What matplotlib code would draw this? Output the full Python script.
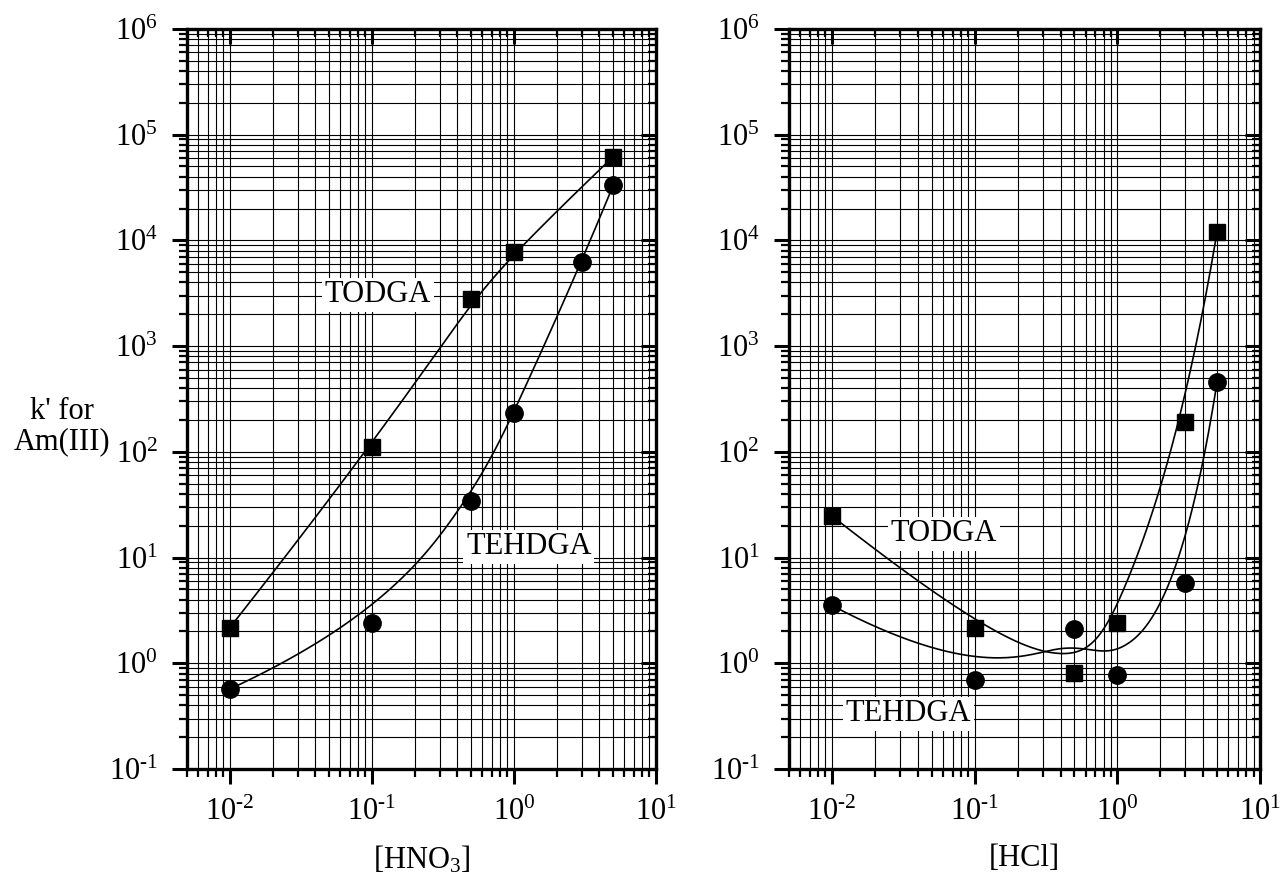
import numpy as np
import matplotlib
matplotlib.use('Agg')
import matplotlib.pyplot as plt
import matplotlib.lines as mlines
from matplotlib.ticker import LogLocator, FixedLocator, NullFormatter, FuncFormatter

plt.rcParams['font.family'] = ['Liberation Serif', 'DejaVu Serif']
plt.rcParams['mathtext.fontset'] = 'custom'
plt.rcParams['mathtext.rm'] = 'Liberation Serif'
plt.rcParams['mathtext.it'] = 'Liberation Serif:italic'
plt.rcParams['mathtext.bf'] = 'Liberation Serif:bold'
plt.rcParams['axes.unicode_minus'] = False

# acid concentration (M)
conc = [0.01, 0.1, 0.5, 1, 3, 5]

# k' for Am(III) from HNO3
hno3_todga_x = [0.01, 0.1, 0.5, 1, 5]
hno3_todga = [2.17, 111, 2800, 7730, 62000]
hno3_tehdga = [0.57, 2.39, 34.3, 232, 6220, 33300]

# k' for Am(III) from HCl
hcl_todga = [24.7, 2.17, 0.81, 2.42, 193, 12100]
hcl_tehdga = [3.52, 0.687, 2.13, 0.78, 5.78, 457]

# labelled decades
x_decades = np.arange(-2, 2)
y_decades = np.arange(-1, 7)

FS = 22


def bspline(xs, ys, n=300):
    ''' clamped cubic B-spline using the data points as control points, in log-log space '''
    P = np.column_stack([np.log10(xs), np.log10(ys)])
    k = 3
    m = len(P)
    knots = np.concatenate([np.zeros(k), np.arange(m - k + 1), np.full(k, m - k)])
    t = np.linspace(0, m - k, n)
    t[-1] -= 1e-9
    # Cox-de Boor
    N = np.zeros((n, len(knots) - 1))
    for i in range(len(knots) - 1):
        N[:, i] = (t >= knots[i]) & (t < knots[i + 1])
    for d in range(1, k + 1):
        Nn = np.zeros((n, len(knots) - 1 - d))
        for i in range(len(knots) - 1 - d):
            a = knots[i + d] - knots[i]
            b = knots[i + d + 1] - knots[i + 1]
            left = (t - knots[i]) / a * N[:, i] if a > 0 else 0
            right = (knots[i + d + 1] - t) / b * N[:, i + 1] if b > 0 else 0
            Nn[:, i] = left + right
        N = Nn
    C = N @ P
    return 10 ** C[:, 0], 10 ** C[:, 1]


def pow_label(v, pos):
    e = int(round(np.log10(v)))
    if e < 0:
        return r'$\mathdefault{10^{\text{-}%d}}$' % (-e)
    return r'$\mathdefault{10^{%d}}$' % e


def style_axes(ax):
    ax.set_xscale('log')
    ax.set_yscale('log')
    ax.set_xlim(0.005, 10)
    ax.set_ylim(0.1, 1e6)
    for a, dec in ((ax.xaxis, x_decades), (ax.yaxis, y_decades)):
        a.set_major_locator(FixedLocator(10.0 ** dec))
        a.set_minor_locator(LogLocator(base=10, subs=np.arange(2, 10), numticks=20))
        a.set_major_formatter(FuncFormatter(pow_label))
        a.set_minor_formatter(NullFormatter())
    ax.grid(True, which='both', color='black', lw=0.8)
    ax.set_axisbelow(True)
    ax.tick_params(which='major', direction='out', length=11, width=2.2,
                   labelsize=FS, pad=10, top=True, right=True)
    ax.tick_params(which='minor', direction='out', length=5.5, width=1.6,
                   top=True, right=True)
    # top and right ticks point into the plot
    for t in ax.xaxis.get_major_ticks() + ax.xaxis.get_minor_ticks():
        t.tick2line.set_marker(mlines.TICKDOWN)
    for t in ax.yaxis.get_major_ticks() + ax.yaxis.get_minor_ticks():
        t.tick2line.set_marker(mlines.TICKLEFT)
    for s in ax.spines.values():
        s.set_linewidth(2.4)


fig = plt.figure(figsize=(12.83, 8.85), dpi=100)
ax1 = fig.add_axes([0.1458, 0.1311, 0.3655, 0.8362])
ax2 = fig.add_axes([0.6150, 0.1311, 0.3671, 0.8362])

for ax in (ax1, ax2):
    style_axes(ax)

box = dict(facecolor='white', edgecolor='none', pad=2)

# left panel: HNO3
cx, cy = bspline(hno3_todga_x, hno3_todga)
ax1.plot(cx, cy, color='black', lw=1.2, zorder=3)
cx, cy = bspline(conc, hno3_tehdga)
ax1.plot(cx, cy, color='black', lw=1.2, zorder=3)
ax1.plot(hno3_todga_x, hno3_todga, 's', color='black', ms=11, zorder=4)
ax1.plot(conc, hno3_tehdga, 'o', color='black', ms=12.5, zorder=4)

ax1.text(0.407, 0.6405, 'TODGA', transform=ax1.transAxes, fontsize=FS,
         ha='center', va='center', bbox=box, zorder=5)
ax1.text(0.729, 0.300, 'TEHDGA', transform=ax1.transAxes, fontsize=FS,
         ha='center', va='center', bbox=box, zorder=5)
ax1.set_xlabel('[HNO$_3$]', fontsize=FS, labelpad=12)

# right panel: HCl
cx, cy = bspline(conc, hcl_todga)
ax2.plot(cx, cy, color='black', lw=1.2, zorder=3)
cx, cy = bspline(conc, hcl_tehdga)
ax2.plot(cx, cy, color='black', lw=1.2, zorder=3)
ax2.plot(conc, hcl_todga, 's', color='black', ms=11, zorder=4)
ax2.plot(conc, hcl_tehdga, 'o', color='black', ms=12.5, zorder=4)

ax2.text(0.329, 0.3176, 'TODGA', transform=ax2.transAxes, fontsize=FS,
         ha='center', va='center', bbox=box, zorder=5)
ax2.text(0.253, 0.0743, 'TEHDGA', transform=ax2.transAxes, fontsize=FS,
         ha='center', va='center', bbox=box, zorder=5)
ax2.set_xlabel('[HCl]', fontsize=FS, labelpad=12)

fig.text(62 / 1283, 1 - 427 / 885, "k' for\nAm(III)", fontsize=FS,
         ha='center', va='center', multialignment='center', linespacing=1.05)

fig.savefig('out.png', dpi=100)
